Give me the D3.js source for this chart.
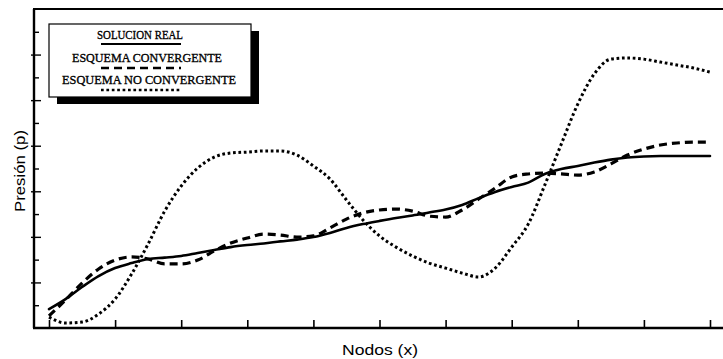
<!DOCTYPE html>
<html>
<head>
<meta charset="utf-8">
<script src="https://cdn.jsdelivr.net/npm/d3@7"></script>
<style>
  html, body { margin: 0; padding: 0; background: #fff; }
  svg { display: block; }
</style>
</head>
<body>
<svg id="chart" width="723" height="359"></svg>
<script>
// Node positions (x) shared by all three series
const nodes = d3.range(0, 41).map(i => i * 0.25);

// Real solution
const solucionReal = [
  0.83, 1.27, 1.80, 2.28, 2.63, 2.85, 3.03, 3.09, 3.16, 3.29,
  3.42, 3.55, 3.64, 3.71, 3.80, 3.88, 3.99, 4.17, 4.39, 4.56,
  4.70, 4.83, 4.94, 5.07, 5.20, 5.40, 5.70, 5.97, 6.19, 6.38,
  6.76, 6.98, 7.11, 7.26, 7.39, 7.48, 7.53, 7.55, 7.55, 7.55, 7.55
];

// Convergent scheme
const esquemaConvergente = [
  0.53, 1.23, 1.97, 2.59, 2.98, 3.12, 3.03, 2.81, 2.81, 2.98,
  3.38, 3.73, 3.95, 4.12, 4.08, 3.99, 4.04, 4.39, 4.78, 5.05,
  5.18, 5.22, 5.13, 4.91, 4.87, 5.18, 5.66, 6.14, 6.63, 6.76,
  6.80, 6.76, 6.71, 6.85, 7.20, 7.59, 7.85, 8.03, 8.12, 8.16, 8.16
];

// Non-convergent scheme
const esquemaNoConvergente = [
  0.48, 0.22, 0.26, 0.61, 1.27, 2.37, 3.69, 5.13, 6.23, 7.02,
  7.50, 7.68, 7.72, 7.77, 7.77, 7.59, 7.11, 6.54, 5.62, 4.74,
  4.04, 3.55, 3.16, 2.85, 2.63, 2.41, 2.24, 2.63, 3.55, 4.56,
  6.27, 8.07, 9.83, 11.15, 11.80, 11.85, 11.80, 11.67, 11.54, 11.41, 11.23
];

const xTicks = d3.range(0, 11);
const yTicks = d3.range(1, 14);

const legendLabels = ["SOLUCION REAL", "ESQUEMA CONVERGENTE", "ESQUEMA NO CONVERGENTE"];
const xTitle = "Nodos (x)";
const yTitle = "Presión (p)";

const svg = d3.select("#chart");

const x = d3.scaleLinear().domain([0, 10]).range([49, 710]);
const y = d3.scaleLinear().domain([0, 14]).range([328, 9]);

const frameLeft = 34, frameRight = 723;

// Frame: left axis, top rule and bottom axis
const frame = svg.append("g").attr("stroke", "#000").attr("fill", "none");
frame.append("line").attr("x1", frameLeft).attr("x2", frameLeft)
  .attr("y1", y(14)).attr("y2", y(0)).attr("stroke-width", 2.4);
frame.append("line").attr("x1", frameLeft - 1).attr("x2", frameRight)
  .attr("y1", y(14)).attr("y2", y(14)).attr("stroke-width", 2.2);
frame.append("line").attr("x1", frameLeft - 1).attr("x2", frameRight)
  .attr("y1", y(0)).attr("y2", y(0)).attr("stroke-width", 2.4);

// Inward ticks on the x axis
const xAxis = d3.axisTop(x).tickValues(xTicks).tickSize(8).tickFormat("");
svg.append("g").attr("transform", `translate(0,${y(0)})`).call(xAxis)
  .call(g => g.select(".domain").remove())
  .call(g => g.selectAll(".tick line").attr("stroke", "#000").attr("stroke-width", 1.6));

// Inward ticks on the y axis; even values drawn longer and crossing the axis
const yAxis = d3.axisRight(y).tickValues(yTicks).tickSize(5).tickFormat("");
svg.append("g").attr("transform", `translate(${frameLeft},0)`).call(yAxis)
  .call(g => g.select(".domain").remove())
  .call(g => g.selectAll(".tick line")
    .attr("stroke", "#000").attr("stroke-width", 1.4)
    .attr("x1", d => d % 2 === 0 ? -3 : 0)
    .attr("x2", d => d % 2 === 0 ? 7 : 5));

// Series lines
const line = d3.line()
  .x((d, i) => x(nodes[i]))
  .y(d => y(d))
  .curve(d3.curveMonotoneX);

const styles = [
  { data: solucionReal, width: 2.6, dash: null, cap: "round" },
  { data: esquemaConvergente, width: 3.2, dash: "8,5", cap: "butt" },
  { data: esquemaNoConvergente, width: 3.0, dash: "2.7,2.7", cap: "butt" }
];

svg.append("g").selectAll("path").data(styles).join("path")
  .attr("d", s => line(s.data))
  .attr("fill", "none")
  .attr("stroke", "#000")
  .attr("stroke-width", s => s.width)
  .attr("stroke-dasharray", s => s.dash)
  .attr("stroke-linecap", s => s.cap)
  .attr("stroke-linejoin", "round");

// Legend box with drop shadow
const legend = svg.append("g");
legend.append("rect").attr("x", 57).attr("y", 31).attr("width", 202).attr("height", 73).attr("fill", "#000");
legend.append("rect").attr("x", 49).attr("y", 24).attr("width", 202).attr("height", 73)
  .attr("fill", "#fff").attr("stroke", "#000").attr("stroke-width", 1.2);

const legendRows = [
  { text: legendLabels[0], cx: 140, ty: 39, len: 86, sy: 44, style: styles[0] },
  { text: legendLabels[1], cx: 147, ty: 62, len: 150, sy: 68, style: styles[1] },
  { text: legendLabels[2], cx: 149, ty: 84, len: 174, sy: 90, style: styles[2] }
];

legend.selectAll("text.leg").data(legendRows).join("text")
  .attr("class", "leg")
  .attr("x", d => d.cx).attr("y", d => d.ty)
  .attr("text-anchor", "middle")
  .attr("textLength", d => d.len)
  .attr("lengthAdjust", "spacingAndGlyphs")
  .style("font-family", "'Liberation Serif', 'DejaVu Serif', serif")
  .style("font-size", "13.5px")
  .attr("fill", "#000")
  .attr("stroke", "#000")
  .attr("stroke-width", 0.35)
  .text(d => d.text);

legend.selectAll("line.sample").data(legendRows).join("line")
  .attr("class", "sample")
  .attr("x1", 101).attr("x2", 181)
  .attr("y1", d => d.sy).attr("y2", d => d.sy)
  .attr("stroke", "#000")
  .attr("stroke-width", d => d.style.width * 0.85)
  .attr("stroke-dasharray", d => d.style.dash)
  .attr("stroke-linecap", "butt");

// Axis titles
svg.append("text")
  .attr("x", 380).attr("y", 355)
  .attr("text-anchor", "middle")
  .attr("textLength", 76).attr("lengthAdjust", "spacingAndGlyphs")
  .style("font-family", "'Liberation Sans', Arial, sans-serif")
  .style("font-size", "15px")
  .attr("fill", "#000")
  .text(xTitle);

svg.append("text")
  .attr("transform", "translate(25,171) rotate(-90)")
  .attr("text-anchor", "middle")
  .attr("textLength", 82).attr("lengthAdjust", "spacingAndGlyphs")
  .style("font-family", "'Liberation Sans', Arial, sans-serif")
  .style("font-size", "15px")
  .attr("fill", "#000")
  .text(yTitle);
</script>
</body>
</html>
